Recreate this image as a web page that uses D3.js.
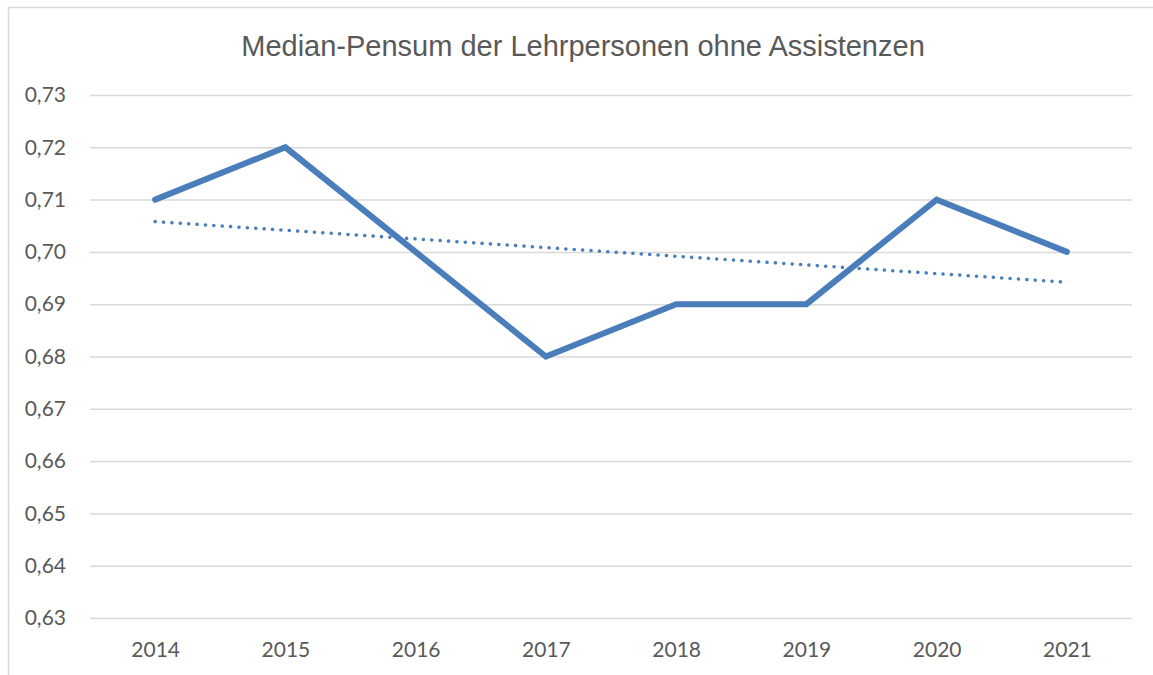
<!DOCTYPE html>
<html>
<head>
<meta charset="utf-8">
<script src="https://cdn.jsdelivr.net/npm/d3@7"></script>
<style>
  body { margin: 0; background: #fff; }
  .tick text { font-family: Lato, "Open Sans", sans-serif; font-size: 21px; fill: #595959; }
</style>
</head>
<body>
<div class="chart"></div>
<script>
var svgWidth = 1153;
var svgHeight = 675;

var margin = { top: 95, right: 21, bottom: 57, left: 90 };
var width = svgWidth - margin.left - margin.right;
var height = svgHeight - margin.top - margin.bottom;

// data
var years = ["2014", "2015", "2016", "2017", "2018", "2019", "2020", "2021"];
var pensum = [0.71, 0.72, 0.70, 0.68, 0.69, 0.69, 0.71, 0.70];
// linear trend, first and last year
var trendYears = ["2014", "2021"];
var trendValues = [0.7058, 0.6942];
var yTicks = [0.63, 0.64, 0.65, 0.66, 0.67, 0.68, 0.69, 0.70, 0.71, 0.72, 0.73];

var svg = d3.select(".chart")
  .append("svg")
  .attr("width", svgWidth)
  .attr("height", svgHeight);

// chart border (cut off at right and bottom)
svg.append("path")
  .attr("d", "M8.5,680 V7.5 H1160")
  .attr("fill", "none")
  .attr("stroke", "#d9d9d9")
  .attr("stroke-width", 1.5);

svg.append("text")
  .attr("x", 583)
  .attr("y", 56)
  .attr("text-anchor", "middle")
  .attr("font-family", "'Liberation Sans', Arial, sans-serif")
  .attr("font-size", "29px")
  .attr("fill", "#595959")
  .text("Median-Pensum der Lehrpersonen ohne Assistenzen");

var chartGroup = svg.append("g")
  .attr("transform", `translate(${margin.left}, ${margin.top})`);

var xScale = d3.scalePoint()
  .domain(years)
  .range([0, width])
  .padding(0.5);

var yScale = d3.scaleLinear()
  .domain([0.63, 0.73])
  .range([height, 0]);

var fmt = d3.formatLocale({ decimal: ",", thousands: "'", grouping: [3], currency: ["", ""] }).format(".2f");

// y axis with gridlines
var yAxis = chartGroup.append("g")
  .call(d3.axisLeft(yScale).tickValues(yTicks).tickFormat(fmt).tickSize(-width).tickPadding(24));
yAxis.select(".domain").remove();
yAxis.selectAll(".tick line")
  .attr("stroke", "#d9d9d9")
  .attr("stroke-width", 1.5);

// x axis
var xAxis = chartGroup.append("g")
  .attr("transform", `translate(0, ${height})`)
  .call(d3.axisBottom(xScale).tickSize(0).tickPadding(24));
xAxis.select(".domain").remove();

var line = d3.line()
  .x((d, i) => xScale(years[i]))
  .y(d => yScale(d));

chartGroup.append("path")
  .datum(trendValues)
  .attr("d", d3.line().x((d, i) => xScale(trendYears[i])).y(d => yScale(d)))
  .attr("fill", "none")
  .attr("stroke", "#4a7ebb")
  .attr("stroke-width", 3.5)
  .attr("stroke-linecap", "round")
  .attr("stroke-dasharray", "0.1,8.3");

chartGroup.append("path")
  .datum(pensum)
  .attr("d", line)
  .attr("fill", "none")
  .attr("stroke", "#4a7ebb")
  .attr("stroke-width", 6)
  .attr("stroke-linecap", "round")
  .attr("stroke-linejoin", "miter");
</script>
</body>
</html>
